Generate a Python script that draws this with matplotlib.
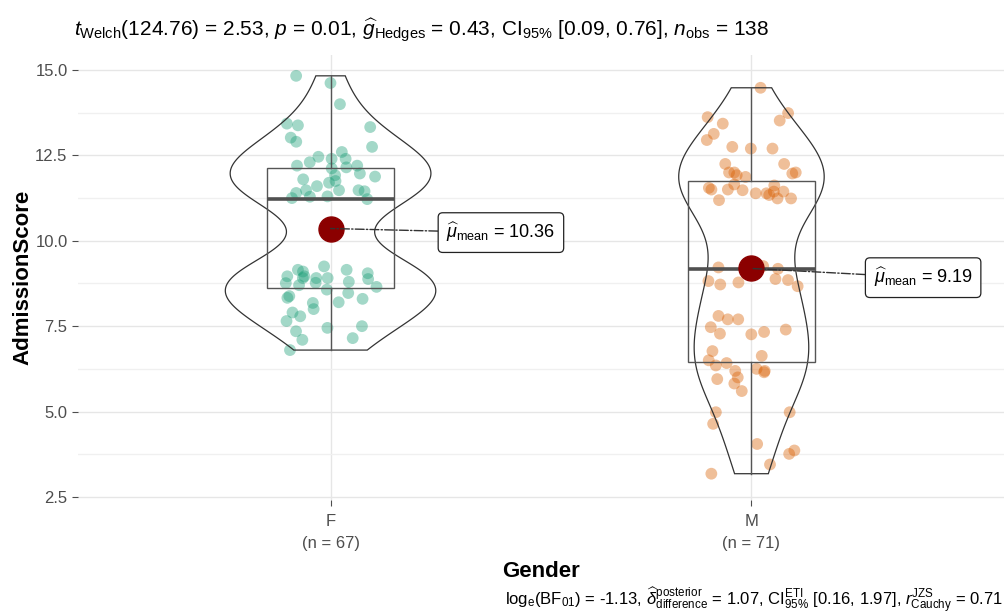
import numpy as np
import matplotlib
matplotlib.use("Agg")
import matplotlib.pyplot as plt
from matplotlib.ticker import MultipleLocator
from matplotlib.patches import Polygon

# ---------------- data ----------------
categories = ["F", "M"]
f_scores = [14.83, 14.62, 14.0, 13.43, 13.38, 13.33, 13.02, 12.9, 12.75, 12.6, 12.46, 12.4,
            12.4, 12.3, 12.2, 12.2, 12.15, 12.12, 11.97, 11.92, 11.88, 11.8, 11.75, 11.7,
            11.6, 11.48, 11.48, 11.48, 11.45, 11.4, 11.3, 11.29, 11.25, 11.22,
            9.25, 9.15, 9.15, 9.1, 9.05, 8.96, 8.96, 8.91, 8.91, 8.91, 8.88, 8.8, 8.77,
            8.76, 8.7, 8.65, 8.57, 8.47, 8.38, 8.33, 8.3, 8.2, 8.18, 8.0, 7.9, 7.79, 7.65,
            7.5, 7.45, 7.35, 7.15, 7.1, 6.8]
m_scores = [14.48, 13.74, 13.62, 13.52, 13.43, 13.13, 12.95, 12.75, 12.7, 12.7, 12.25, 12.25,
            12.0, 12.0, 12.0, 11.97, 11.92, 11.87,
            11.65, 11.62, 11.55, 11.5, 11.48, 11.5, 11.44, 11.44, 11.39, 11.39, 11.34, 11.24,
            11.24, 11.19,
            9.26, 9.22, 9.2, 9.18,
            8.85, 8.88, 8.82, 8.78, 8.72, 8.67, 7.8, 7.7, 7.7, 7.47, 7.4, 7.33, 7.28, 7.26,
            6.77, 6.63, 6.42, 6.5,
            6.35, 6.25, 6.15, 6.19, 6.19, 6.0, 5.95, 5.82, 5.6, 4.98, 4.98, 4.64, 4.05, 3.86,
            3.76, 3.45, 3.18]
group_values = [f_scores, m_scores]
point_colors = ["#1B9E77", "#D95F02"]
title_text = (r"$t_{\mathrm{Welch}}$(124.76) = 2.53, $p$ = 0.01, "
              r"$\widehat{g}_{\mathrm{Hedges}}$ = 0.43, CI$_{95\%}$ [0.09, 0.76], "
              r"$n_{\mathrm{obs}}$ = 138")
caption_text = (r"log$_{\mathrm{e}}$(BF$_{01}$) = -1.13, "
                r"$\widehat{\delta}_{\mathrm{difference}}^{\mathrm{posterior}}$ = 1.07, "
                r"CI$_{95\%}^{\mathrm{ETI}}$ [0.16, 1.97], "
                r"$r_{\mathrm{Cauchy}}^{\mathrm{JZS}}$ = 0.71")
x_title = "Gender"
y_title = "AdmissionScore"

# ---------------- style ----------------
plt.rcParams['font.family'] = ['Liberation Sans', 'DejaVu Sans']
plt.rcParams['mathtext.fontset'] = 'custom'
plt.rcParams['mathtext.rm'] = 'Liberation Sans'
plt.rcParams['mathtext.it'] = 'Liberation Sans:italic'
plt.rcParams['mathtext.bf'] = 'Liberation Sans:bold'

W, H = 1007, 614
fig = plt.figure(figsize=(W / 100, H / 100), dpi=100)
L, R, T, B = 78, 1004, 55, 500
ax = fig.add_axes([L / W, 1 - B / H, (R - L) / W, (B - T) / H])
ax.set_xlim(0.4, 2.6)
ax.set_ylim(2.41, 15.44)

ax.yaxis.set_major_locator(MultipleLocator(2.5))
ax.yaxis.set_minor_locator(MultipleLocator(1.25))
ax.grid(which='major', color='#E6E6E6', lw=1.0, zorder=0)
ax.grid(which='minor', axis='y', color='#F0F0F0', lw=1.0, zorder=0)
ax.set_axisbelow(True)
for s in ax.spines.values():
    s.set_visible(False)
ax.tick_params(which='major', length=4, color='#4D4D4D', labelcolor='#4D4D4D',
               labelsize=12, width=0.8)
ax.tick_params(axis='x', which='major', pad=6)
ax.tick_params(which='minor', length=0)
ax.yaxis.set_major_formatter(matplotlib.ticker.FormatStrFormatter('%.1f'))

positions = np.arange(1, len(categories) + 1)


def kde(vals, grid):
    v = np.asarray(vals, float)
    n = len(v)
    sd = v.std(ddof=1)
    q75, q25 = np.percentile(v, [75, 25])
    bw = 0.9 * min(sd, (q75 - q25) / 1.34) * n ** -0.2
    z = (grid[:, None] - v[None, :]) / bw
    return np.exp(-0.5 * z ** 2).sum(1) / (n * bw * np.sqrt(2 * np.pi))


grids = [np.linspace(min(v), max(v), 300) for v in group_values]
dens = [kde(v, g) for v, g in zip(group_values, grids)]
dmax = max(d.max() for d in dens)

rng = np.random.default_rng(11)
for pos, vals, col, g, d in zip(positions, group_values, point_colors, grids, dens):
    vals = np.asarray(vals)
    jit = rng.uniform(-0.11, 0.11, len(vals))
    ax.scatter(pos + jit, vals, s=72, color=col, alpha=0.4, edgecolors='none', zorder=2)
    # violin
    w = 0.25 * d / dmax
    xs = np.concatenate([pos - w, (pos + w)[::-1]])
    ys = np.concatenate([g, g[::-1]])
    ax.add_patch(Polygon(np.column_stack([xs, ys]), closed=True, fill=False,
                         ec='#333333', lw=0.9, zorder=3))

ax.boxplot(group_values, positions=positions, widths=0.3, showfliers=False,
           showcaps=False, whis=1.5, patch_artist=True,
           boxprops=dict(facecolor='none', edgecolor='#555555', lw=1.0),
           whiskerprops=dict(color='#555555', lw=1.0),
           medianprops=dict(color='#505050', lw=2.6),
           zorder=3)

label_x = [1.275, 2.29]
label_dy = [-0.12, -0.27]
for pos, vals, lx, dy in zip(positions, group_values, label_x, label_dy):
    m = float(np.mean(vals))
    ax.plot([pos], [m], 'o', ms=18, color='#8B0000', zorder=5)
    ax.annotate(r"$\widehat{\mu}_{\mathrm{mean}}$ = " + f"{m:.2f}",
                xy=(pos, m), xytext=(lx, m + dy), ha='left', va='center',
                fontsize=13, zorder=6,
                bbox=dict(boxstyle='round,pad=0.45,rounding_size=0.25', fc='white',
                          ec='#222222', lw=0.9),
                arrowprops=dict(arrowstyle='-', linestyle='-.', color='#333333',
                                lw=1.0, shrinkA=0, shrinkB=0))

ax.set_xticks(positions)
ax.set_xticklabels([f"{c}\n(n = {len(v)})" for c, v in zip(categories, group_values)],
                   linespacing=1.6)
ax.set_xlabel(x_title, fontsize=16, fontweight='bold', labelpad=7)
ax.set_ylabel(y_title, fontsize=16, fontweight='bold', labelpad=1)

fig.text(74 / W, 1 - 30 / H, title_text, ha='left', va='center', fontsize=15)
fig.text(1003 / W, 1 - 600 / H, caption_text, ha='right', va='center', fontsize=12)

fig.savefig("out.png", dpi=100)
